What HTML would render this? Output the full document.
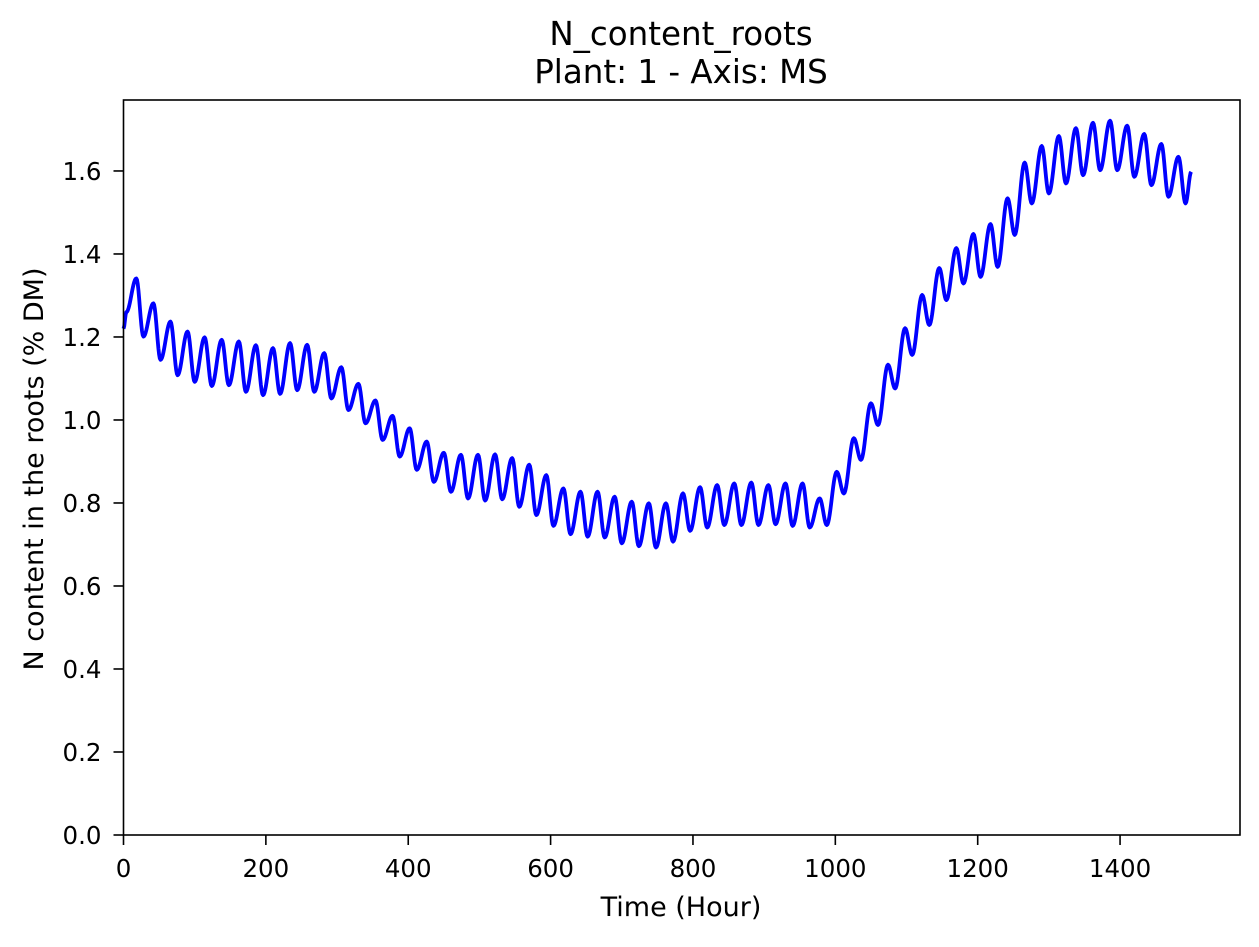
<!DOCTYPE html>
<html><head><meta charset="utf-8"><style>
body{margin:0;background:#fff;}
svg text{font-family:"DejaVu Sans","Liberation Sans",sans-serif;fill:#000;}
</style></head><body>
<svg id="chart" width="1259" height="942" viewBox="0 0 1259 942" xmlns="http://www.w3.org/2000/svg">
<rect width="1259" height="942" fill="#fff"/>
<text x="681" y="45" font-size="32.5" text-anchor="middle">N_content_roots</text>
<text x="681" y="83" font-size="32.5" text-anchor="middle">Plant: 1 - Axis: MS</text>
<g id="ticks"></g>
<path id="series" fill="none" stroke="#0000ff" stroke-width="3.8" stroke-linejoin="round"/>
<rect x="123.5" y="100" width="1116.5" height="735" fill="none" stroke="#000" stroke-width="1.6"/>
<text x="681" y="916" font-size="27" text-anchor="middle">Time (Hour)</text>
<text transform="translate(43,469) rotate(-90)" font-size="27" text-anchor="middle">N content in the roots (% DM)</text>
</svg>
<script>
const xTicks=[0,200,400,600,800,1000,1200,1400];
const yTicks=[0.0,0.2,0.4,0.6,0.8,1.0,1.2,1.4,1.6];
const startTimes=[0,4];
const startValues=[1.22,1.26];
const peakValues=[1.341,1.281,1.237,1.213,1.199,1.193,1.189,1.180,1.173,1.185,1.181,1.161,1.127,1.087,1.047,1.010,0.980,0.948,0.921,0.916,0.916,0.917,0.908,0.892,0.867,0.835,0.827,0.827,0.815,0.803,0.799,0.799,0.823,0.838,0.843,0.847,0.849,0.843,0.847,0.847,0.811,0.875,0.956,1.040,1.133,1.221,1.301,1.366,1.414,1.448,1.472,1.534,1.620,1.660,1.684,1.703,1.716,1.721,1.709,1.689,1.665,1.634];
const troughValues=[1.201,1.145,1.108,1.092,1.082,1.084,1.068,1.060,1.063,1.072,1.068,1.052,1.024,0.992,0.952,0.912,0.880,0.851,0.827,0.811,0.806,0.809,0.791,0.771,0.745,0.725,0.719,0.717,0.703,0.696,0.693,0.707,0.733,0.741,0.747,0.747,0.747,0.749,0.745,0.741,0.747,0.823,0.904,0.988,1.076,1.157,1.229,1.289,1.329,1.345,1.369,1.446,1.522,1.546,1.570,1.590,1.602,1.602,1.586,1.566,1.538,1.522];
const endTime=1500, endValue=1.598;
const period=24, peakOffset=18, troughOffset=28;

const X0=123.5,X1=1240,XMAX=1568.5,Y0=835,Y1=100,YMAX=1.771;
function sx(t){return X0+t/XMAX*(X1-X0);}
function sy(v){return Y0-v/YMAX*(Y0-Y1);}
const NS="http://www.w3.org/2000/svg";
const g=document.getElementById('ticks');
function add(tag,attrs,txt){const e=document.createElementNS(NS,tag);for(const k in attrs)e.setAttribute(k,attrs[k]);if(txt!==undefined)e.textContent=txt;g.appendChild(e);return e;}
xTicks.forEach(t=>{
  const l=add('line',{x1:sx(t),x2:sx(t),y1:Y0,y2:Y0+10,stroke:'#000','stroke-width':1.6});
  
  
  const s=add('text',{x:sx(t),y:Y0+42,'font-size':24.5,'text-anchor':'middle'},String(t));
  
  
});
yTicks.forEach(v=>{
  const l=add('line',{x1:X0-10,x2:X0,y1:sy(v),y2:sy(v),stroke:'#000','stroke-width':1.6});
  
  
  const s=add('text',{x:X0-22,y:sy(v)+9,'font-size':24.5,'text-anchor':'end'},v.toFixed(1));
  
  
});
const knots=[];
startTimes.forEach((t,i)=>knots.push([t,startValues[i]]));
peakValues.forEach((p,k)=>{
  const tp=peakOffset+period*k, tt=troughOffset+period*k;
  if(tp<endTime)knots.push([tp,p]);
  if(tt<endTime)knots.push([tt,troughValues[k]]);
});
knots.push([endTime,endValue]);
let d='';
for(let i=0;i<knots.length-1;i++){
  const [t0,v0]=knots[i],[t1,v1]=knots[i+1];
  const n=Math.max(2,Math.round((t1-t0)));
  for(let j=(i===0?0:1);j<=n;j++){
    const f=j/n, w=(1-Math.cos(Math.PI*f))/2;
    const t=t0+(t1-t0)*f, v=v0+(v1-v0)*w;
    d+=(d?'L':'M')+sx(t).toFixed(2)+','+sy(v).toFixed(2);
  }
}
document.getElementById('series').setAttribute('d',d);
</script>
</body></html>
